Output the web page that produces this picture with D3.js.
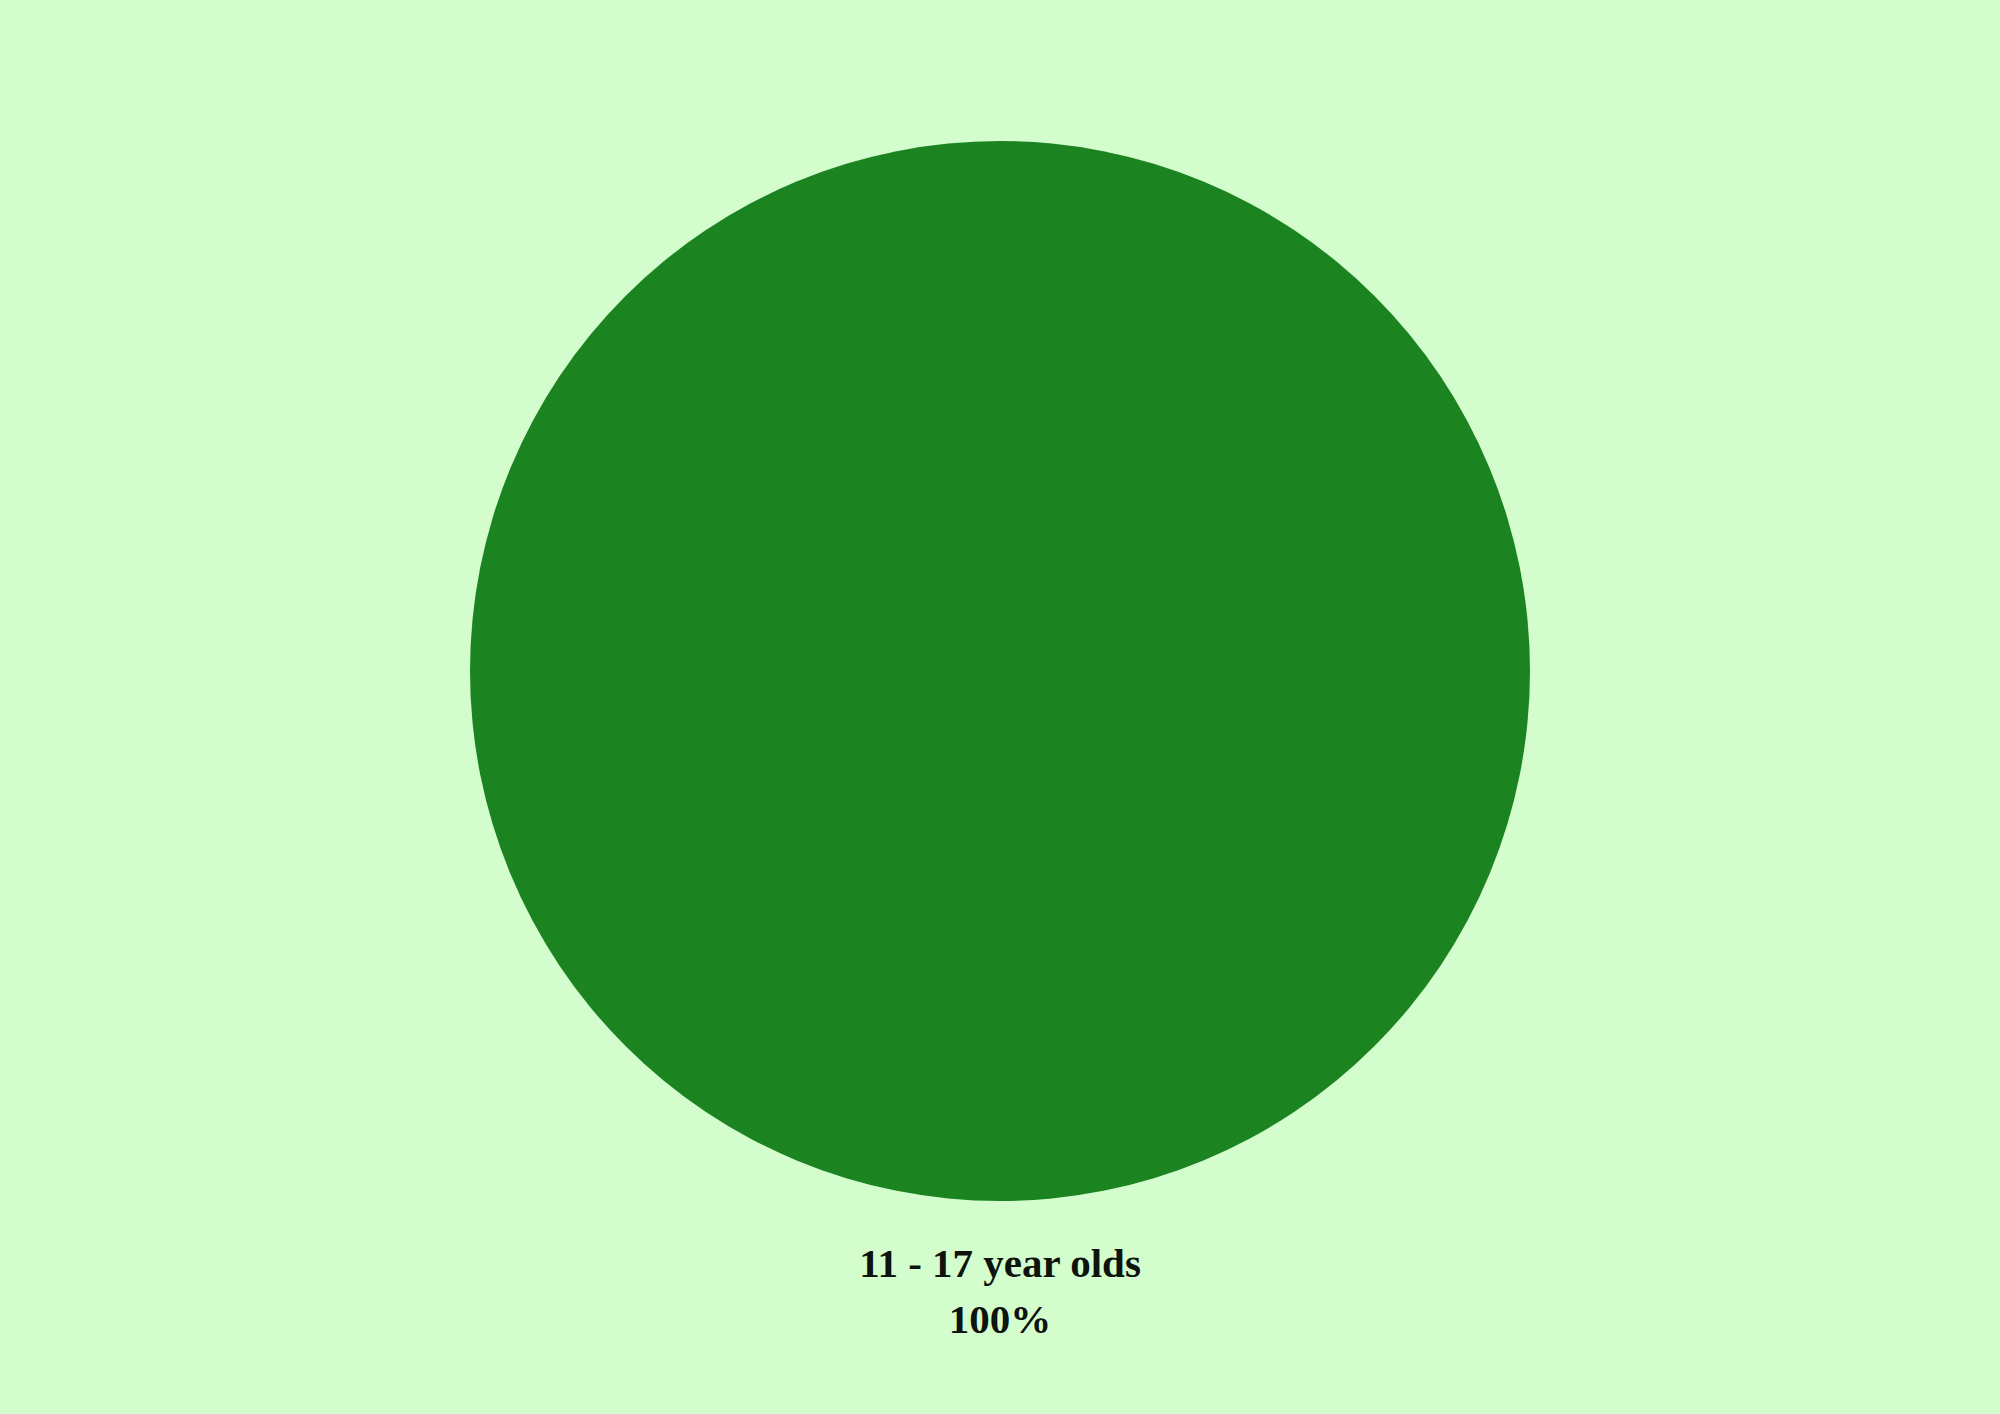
<!DOCTYPE html>
<html>
  <head>
    <meta charset="utf-8" />
    <script src="https://d3js.org/d3.v7.min.js"></script>
    <style>
      body { margin: 0; background: #d4fdce; }
      svg { display: block; }
      .label { font-family: "Liberation Serif", serif; font-weight: bold; fill: #0d130d; text-anchor: middle; }
    </style>
  </head>
  <body>
    <svg width="2000" height="1414"></svg>
    <script>
      const categories = ["11 - 17 year olds"];
      const values = [100];
      const colors = ["#1b8420"];

      const svg = d3.select("svg");
      const width = 2000, height = 1414;
      const cx = 1000, cy = 671, radius = 530;

      svg.append("rect").attr("width", width).attr("height", height).attr("fill", "#d4fdce");

      const pie = d3.pie().sort(null).value((d) => d);
      const arc = d3.arc().innerRadius(0).outerRadius(radius);

      const g = svg.append("g").attr("transform", `translate(${cx},${cy})`);
      g.selectAll("path")
        .data(pie(values))
        .enter()
        .append("path")
        .attr("d", arc)
        .attr("fill", (d, i) => colors[i]);

      // label under the pie
      const total = d3.sum(values);
      categories.forEach((c, i) => {
        const t = svg.append("text").attr("class", "label").attr("x", cx).attr("y", 1277).attr("font-size", 41);
        t.append("tspan").attr("x", cx).text(c);
        t.append("tspan").attr("x", cx).attr("dy", 56).text(d3.format(".0%")(values[i] / total));
      });
    </script>
  </body>
</html>
